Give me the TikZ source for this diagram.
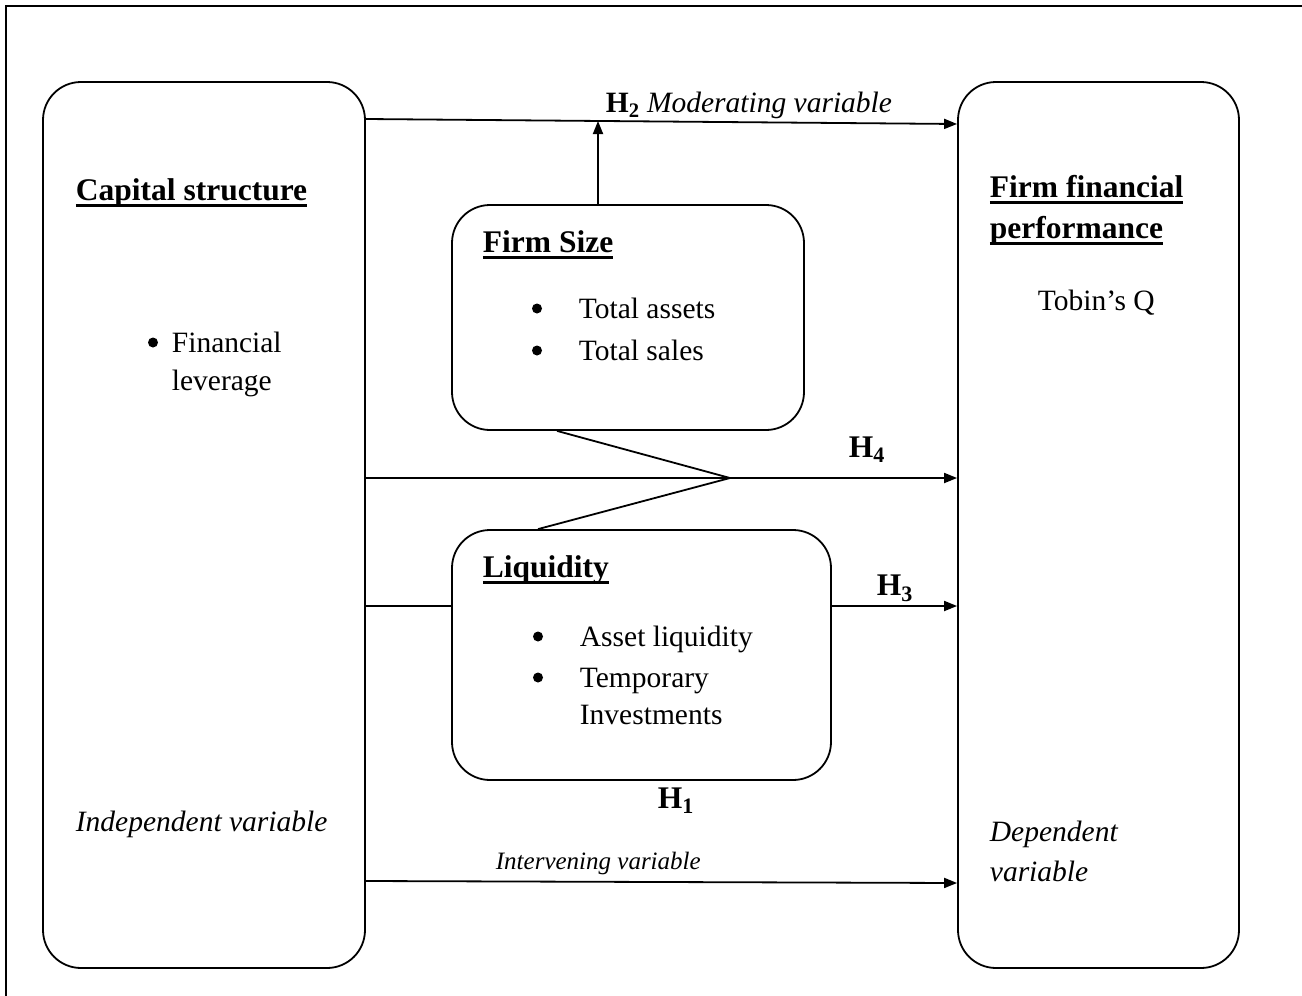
\documentclass[tikz,border=0pt]{standalone}
\usepackage{fontspec}
\setmainfont{Liberation Serif}
\usetikzlibrary{arrows.meta}
\newlength\ulwd
\newcommand\ultitle[1]{\settowidth\ulwd{#1}\rlap{\rule[-7pt]{\ulwd}{2.6pt}}#1}

\begin{document}
\begin{tikzpicture}[x=1pt,y=-1pt,line width=1.8pt,
  node font=\fontsize{29.5}{34}\selectfont,
  box/.style={draw,rounded corners=38pt,inner sep=0pt},
  txt/.style={anchor=base west,inner sep=0pt},
  ttl/.style={txt,font=\fontsize{31.5}{36}\selectfont\bfseries},
  arr/.style={-{Triangle[length=13pt,width=10pt]}}]
  \useasboundingbox (0,0) rectangle (1302,996);
  \draw[line width=2.4pt] (6,996) -- (6,6) -- (1302,6);

  % the four boxes
  \node[box,minimum width=322pt,minimum height=886pt] (cap) at (204,525) {};
  \node[box,minimum width=281pt,minimum height=886pt] (perf) at (1098.5,525) {};
  \node[box,minimum width=352pt,minimum height=225pt] (size) at (628,317.5) {};
  \node[box,minimum width=379pt,minimum height=250pt] (liq) at (641.5,655) {};

  % texts in the boxes
  \node[ttl] (capt) at (75,200) {\ultitle{Capital structure}};
  \node[txt] (cap1) at (147,352) {\hspace*{24pt}Financial};
  \node[txt] (cap2) at (171,390) {leverage};
  \node[txt,font=\itshape] (indep) at (75,831) {Independent variable};

  \node[ttl] (perft1) at (989,197) {\ultitle{Firm financial}};
  \node[ttl] (perft2) at (989,238) {\ultitle{performance}};
  \node[txt] (tobin) at (1037,310) {Tobin’s Q};
  \node[txt,font=\itshape] (dep1) at (989,841) {Dependent};
  \node[txt,font=\itshape] (dep2) at (989,881) {variable};

  \node[ttl] (sizet) at (482,252) {\ultitle{Firm Size}};
  \node[txt] (size1) at (531,318) {\hspace*{47pt}Total assets};
  \node[txt] (size2) at (531,360) {\hspace*{47pt}Total sales};

  \node[ttl] (liqt) at (482,577) {\ultitle{Liquidity}};
  \node[txt] (liq1) at (532,646) {\hspace*{47pt}Asset liquidity};
  \node[txt] (liq2) at (532,687) {\hspace*{47pt}Temporary};
  \node[txt] (liq3) at (579,724) {Investments};

  % bullets
  \foreach \n in {cap1,size1,size2,liq1,liq2}
    \fill ([shift={(6,-9.5)}]\n.base west) circle (5);

  % connectors
  \coordinate (mod) at (598,121);
  \coordinate (meet) at (730,478);
  \draw[arr] (cap.east |- 0,119) -- (perf.west |- 0,124);
  \draw[arr] (size.north -| mod) -- (mod);
  \draw[arr] (cap.east |- meet) -- (perf.west |- meet);
  \draw (size.south -| 557,0) -- (meet) -- (liq.north -| 538,0);
  \draw (cap.east |- 0,606) -- (liq.west |- 0,606);
  \draw[arr] (liq.east |- 0,606) -- (perf.west |- 0,606);
  \draw[arr] (cap.east |- 0,881) -- (perf.west |- 0,883);

  % hypothesis labels
  \node[txt] (h2) at (605,112) {{\bfseries H\textsubscript{2}} \textit{Moderating variable}};
  \node[ttl] (h4) at (848,457) {H\textsubscript{4}};
  \node[ttl] (h3) at (876,595) {H\textsubscript{3}};
  \node[ttl] (h1) at (657,808) {H\textsubscript{1}};
  \node[txt,font=\fontsize{25}{30}\selectfont\itshape] (interv) at (495,869) {Intervening variable};
\end{tikzpicture}
\end{document}
